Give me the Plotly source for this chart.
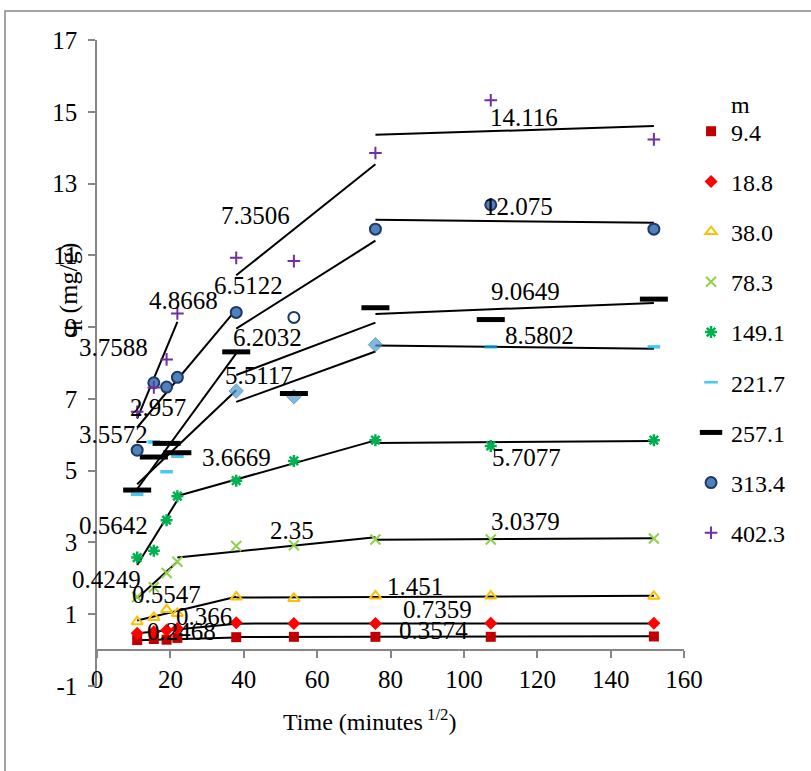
import plotly.graph_objects as go

# Square root of contact time (minutes^1/2)
time_sqrt = [10.95, 15.49, 18.97, 21.91, 37.95, 53.67, 75.89, 107.33, 151.79]

# Legend labels (m)
series_names = ["9.4", "18.8", "38.0", "78.3", "149.1", "221.7", "257.1", "313.4", "402.3"]

# Adsorbed amount q_t (mg/g) for each series
q_9_4 = [0.28, 0.31, 0.29, 0.34, 0.36, 0.37, 0.37, 0.37, 0.38]
q_18_8 = [0.47, 0.51, 0.55, 0.60, 0.76, 0.74, 0.74, 0.75, 0.75]
q_38_0 = [0.79, 0.91, 1.13, 1.02, 1.48, 1.44, 1.51, 1.51, 1.50]
q_78_3 = [1.48, 1.75, 2.15, 2.46, 2.90, 2.92, 3.08, 3.08, 3.11]
q_149_1 = [2.58, 2.77, 3.62, 4.29, 4.72, 5.27, 5.85, 5.69, 5.85]
q_221_7 = [4.34, 5.80, 4.97, 5.40, 7.22, 7.06, 8.51, 8.45, 8.45]
q_257_1 = [4.46, 5.38, 5.76, 5.50, 8.31, 7.15, 9.54, 9.21, 9.78]
q_313_4 = [5.57, 7.45, 7.33, 7.60, 9.41, 9.27, 11.73, 12.41, 11.73]
q_402_3 = [6.64, 7.32, 8.10, 9.38, 10.93, 10.84, 13.85, 15.32, 14.23]

# Linear fit segments: (first point index, last point index, intercept C, slope k)
seg_9_4 = [(0, 4, 0.2468, 0.0028), (4, 8, 0.3574, 0.0002)]
seg_18_8 = [(0, 4, 0.366, 0.0097), (4, 8, 0.7359, 0.00005)]
seg_38_0 = [(0, 4, 0.5547, 0.0245), (4, 8, 1.451, 0.0004)]
seg_78_3 = [(0, 3, 0.4249, 0.093), (3, 6, 2.35, 0.0105), (6, 8, 3.0379, 0.0005)]
seg_149_1 = [(0, 3, 0.5642, 0.165), (3, 6, 3.6669, 0.0287), (6, 8, 5.7077, 0.0008)]
seg_221_7 = [(0, 4, 3.5572, 0.097), (4, 6, 5.5117, 0.037), (6, 8, 8.5802, -0.0012)]
seg_257_1 = [(0, 4, 2.957, 0.140), (4, 6, 6.2032, 0.0385), (6, 8, 9.0649, 0.0040)]
seg_313_4 = [(0, 4, 4.8668, 0.122), (4, 6, 6.5122, 0.0645), (6, 8, 12.075, -0.0011)]
seg_402_3 = [(0, 3, 3.7588, 0.246), (4, 6, 7.3506, 0.0815), (6, 8, 14.116, 0.0032)]

# Y-axis ticks
y_tickvals = [-1, 1, 3, 5, 7, 9, 11, 13, 15, 17]
y_ticktext = ["-1", "1", "3", "5", "7", "9", "11", "13", "15", "17"]

q_values = [q_9_4, q_18_8, q_38_0, q_78_3, q_149_1, q_221_7, q_257_1, q_313_4, q_402_3]
segments = [seg_9_4, seg_18_8, seg_38_0, seg_78_3, seg_149_1, seg_221_7, seg_257_1, seg_313_4, seg_402_3]

# Where each intercept label sits (data coordinates), one per segment
label_pos = [
    [(22.9, 0.53), (91.6, 0.56)],
    [(29.2, 0.95), (92.7, 1.14)],
    [(19.0, 1.56), (86.6, 1.78)],
    [(2.7, 1.98), (53.1, 3.34), (116.9, 3.59)],
    [(4.6, 3.48), (38.1, 5.38), (117.2, 5.38)],
    [(4.6, 6.02), (44.1, 7.66), (120.7, 8.77)],
    [(16.6, 6.77), (46.6, 8.72), (116.9, 10.0)],
    [(23.7, 9.75), (41.4, 10.17), (115.0, 12.37)],
    [(4.6, 8.44), (43.1, 12.12), (116.3, 14.85)],
]

FONT = "Liberation Serif"

dash_sym = ["line-ew"] * 4 + ["diamond"] * 3 + ["line-ew"] * 2
marker_styles = [
    dict(symbol="square", size=10, color="#C00000", line=dict(width=0)),
    dict(symbol="diamond", size=10, color="#FF0000", line=dict(width=0)),
    dict(symbol="triangle-up-open", size=10, color="#FFC000", line=dict(width=2, color="#FFC000")),
    dict(symbol="x-thin-open", size=10, color="#92D050", line=dict(width=2, color="#92D050")),
    dict(symbol="asterisk-open", size=10, color="#00B050", line=dict(width=2.5, color="#00B050")),
    dict(symbol=dash_sym,
         size=[9 if s == "line-ew" else 11 for s in dash_sym],
         color=["#00B0F0" if s == "line-ew" else "#4A9CD0" for s in dash_sym],
         line=dict(width=[3.5 if s == "line-ew" else 1 for s in dash_sym],
                   color=["#00B0F0" if s == "line-ew" else "#2E75B6" for s in dash_sym])),
    dict(symbol="line-ew", size=20, color="#000000", line=dict(width=5, color="#000000")),
    dict(symbol="circle", size=11,
         color=["#4F81BD"] * 5 + ["#FFFFFF"] + ["#4F81BD"] * 3,
         line=dict(width=2, color="#1F3864")),
    dict(symbol="cross-thin-open", size=9, color="#7030A0", line=dict(width=2, color="#7030A0")),
]

fig = go.Figure()

# Fit lines first so markers sit on top
annotations = []
for name, segs, positions in zip(series_names, segments, label_pos):
    for (i0, i1, c, k), (lx, ly) in zip(segs, positions):
        xs = [time_sqrt[i0], time_sqrt[i1]]
        fig.add_trace(go.Scatter(
            x=xs, y=[c + k * x for x in xs], mode="lines",
            line=dict(color="black", width=2), showlegend=False, hoverinfo="skip",
        ))
        annotations.append(dict(
            x=lx, y=ly, xref="x", yref="y", text=str(c), showarrow=False,
            font=dict(family=FONT, size=25, color="black"),
        ))

for name, vals, style in zip(series_names, q_values, marker_styles):
    fig.add_trace(go.Scatter(
        x=time_sqrt, y=vals, mode="markers", name=name, legendgroup=name,
        marker=style,
    ))

# Axis titles and legend heading
annotations.append(dict(
    x=0.465, y=-0.053, xref="paper", yref="paper", showarrow=False,
    xanchor="center", yanchor="middle",
    text="Time (minutes<sup> 1/2</sup>)", font=dict(family=FONT, size=24, color="black"),
))
annotations.append(dict(
    x=-0.046, y=0.613, xref="paper", yref="paper", showarrow=False, textangle=-90,
    xanchor="center", yanchor="middle",
    text="q<sub>t</sub> (mg/g)", font=dict(family=FONT, size=26, color="black"),
))
annotations.append(dict(
    x=1.096, y=0.9, xref="paper", yref="paper", showarrow=False,
    xanchor="center", yanchor="middle",
    text="m", font=dict(family=FONT, size=24, color="black"),
))

axis_grey = "#868686"
fig.update_layout(
    width=811, height=771,
    margin=dict(l=97, r=127, t=40, b=85),
    paper_bgcolor="white", plot_bgcolor="white",
    font=dict(family=FONT, size=25, color="black"),
    annotations=annotations,
    xaxis=dict(
        range=[0, 160], dtick=20, tick0=0, showgrid=False, zeroline=False,
        showline=True, linecolor=axis_grey, linewidth=1.5,
        ticks="outside", ticklen=7, tickcolor=axis_grey, tickwidth=1.5,
        anchor="free", position=1 / 18,
        tickfont=dict(family=FONT, size=25, color="black"),
    ),
    yaxis=dict(
        range=[-1, 17], tickmode="array", tickvals=y_tickvals, ticktext=y_ticktext,
        showgrid=False, zeroline=False,
        showline=True, linecolor=axis_grey, linewidth=1.5,
        ticks="outside", ticklen=7, tickcolor=axis_grey, tickwidth=1.5,
        ticklabelstandoff=6,
        tickfont=dict(family=FONT, size=25, color="black"),
    ),
    legend=dict(
        x=1.012, y=0.893, xanchor="left", yanchor="top",
        font=dict(family=FONT, size=24, color="black"),
        tracegroupgap=16, itemwidth=30, bgcolor="rgba(0,0,0,0)",
    ),
    shapes=[dict(
        type="rect", xref="paper", yref="paper",
        x0=-0.1567, x1=1.23, y0=-0.16, y1=1.0449,
        line=dict(color=axis_grey, width=1.5), fillcolor="rgba(0,0,0,0)", layer="below",
    )],
)

fig.write_html("out.html")
